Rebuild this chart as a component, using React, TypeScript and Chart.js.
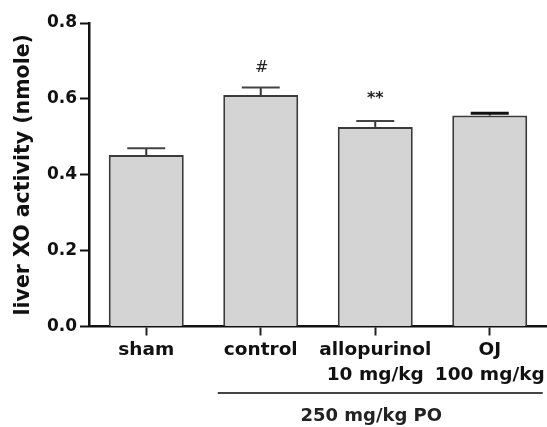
import React, { useEffect, useRef } from "react";
import { Chart, registerables } from "chart.js";

Chart.register(...registerables);

const categories: (string | string[])[] = [
  "sham",
  "control",
  ["allopurinol", "10 mg/kg"],
  ["OJ", "100 mg/kg"],
];
const means = [0.452, 0.61, 0.526, 0.556];
const errors = [0.018, 0.02, 0.016, 0.006];
const sigMarks = ["", "#", "**", ""];
const yTicks = [0, 0.2, 0.4, 0.6, 0.8];
const yTitle = "liver XO activity (nmole)";
const groupLabel = "250 mg/kg PO";
const groupFrom = 1;
const groupTo = 3;

const FONT = "'DejaVu Sans', sans-serif";

const errorBarPlugin = {
  id: "errorBars",
  afterDatasetsDraw(chart: any) {
    const { ctx, scales } = chart;
    const y = scales.y;
    const meta = chart.getDatasetMeta(0);
    ctx.save();
    meta.data.forEach((bar: any, i: number) => {
      const x = bar.x;
      const yBar = y.getPixelForValue(means[i]);
      const yTop = y.getPixelForValue(means[i] + errors[i]);
      ctx.strokeStyle = "#333";
      ctx.lineWidth = 2;
      ctx.beginPath();
      ctx.moveTo(x, yBar);
      ctx.lineTo(x, yTop);
      ctx.stroke();
      ctx.lineWidth = errors[i] < 0.01 ? 3 : 2;
      ctx.strokeStyle = errors[i] < 0.01 ? "#111" : "#444";
      ctx.beginPath();
      ctx.moveTo(x - 19, yTop);
      ctx.lineTo(x + 19, yTop);
      ctx.stroke();
      const mark = sigMarks[i];
      if (mark) {
        ctx.fillStyle = "#222";
        ctx.textAlign = "center";
        ctx.textBaseline = "alphabetic";
        if (mark === "#") {
          ctx.font = `16px ${FONT}`;
          ctx.fillText(mark, x + 1, yTop - 15);
        } else {
          ctx.font = `bold 16px ${FONT}`;
          ctx.fillText(mark, x, yTop - 18);
        }
      }
    });
    ctx.restore();
  },
  afterDraw(chart: any) {
    const { ctx, scales } = chart;
    const x = scales.x;
    const start = x.getPixelForValue(groupFrom) - 43;
    const end = x.getPixelForValue(groupTo) + 53;
    ctx.save();
    ctx.strokeStyle = "#444";
    ctx.lineWidth = 2;
    ctx.beginPath();
    ctx.moveTo(start, 393);
    ctx.lineTo(end, 393);
    ctx.stroke();
    ctx.fillStyle = "#222";
    ctx.font = `bold 18px ${FONT}`;
    ctx.textAlign = "center";
    ctx.textBaseline = "middle";
    ctx.fillText(groupLabel, x.getPixelForValue(2) - 4, 416);
    ctx.restore();
  },
};

export default function App() {
  const ref = useRef<HTMLCanvasElement | null>(null);
  useEffect(() => {
    if (!ref.current) return;
    const chart = new Chart(ref.current, {
      type: "bar",
      data: {
        labels: categories as any,
        datasets: [
          {
            data: means,
            backgroundColor: "#d4d4d4",
            borderColor: "#3a3a3a",
            borderWidth: 2,
            barPercentage: 0.655,
            categoryPercentage: 1,
          },
        ],
      },
      options: {
        responsive: false,
        animation: false,
        layout: { padding: { top: 23, left: 0, right: 0, bottom: 0 } },
        plugins: {
          legend: { display: false },
          tooltip: { enabled: false },
        },
        scales: {
          x: {
            afterFit: (s: any) => {
              s.height = 100.5;
            },
            grid: {
              offset: false,
              drawOnChartArea: false,
              drawTicks: true,
              tickLength: 9,
              tickWidth: 2,
              tickColor: "#222",
            },
            border: { display: true, color: "#111", width: 2.5 },
            ticks: {
              color: "#111",
              padding: 2,
              autoSkip: false,
              maxRotation: 0,
              font: { family: FONT, size: 18.5, weight: "bold", lineHeight: 1.35 },
            },
          },
          y: {
            min: 0,
            max: 0.8,
            afterFit: (s: any) => {
              s.width = 89;
            },
            afterBuildTicks: (s: any) => {
              s.ticks = yTicks.map((v) => ({ value: v }));
            },
            grid: {
              drawOnChartArea: false,
              drawTicks: true,
              tickLength: 9,
              tickWidth: 2,
              tickColor: "#111",
            },
            border: { display: true, color: "#111", width: 2.5 },
            ticks: {
              color: "#111",
              padding: 3,
              font: { family: FONT, size: 17, weight: "bold" },
              callback: (v: any) => Number(v).toFixed(1),
            },
            title: {
              display: true,
              text: yTitle,
              color: "#111",
              padding: { top: 11, bottom: 0 },
              font: { family: FONT, size: 20.5, weight: "bold", lineHeight: 1.2 },
            },
          },
        },
      },
      plugins: [errorBarPlugin],
    } as any);
    return () => chart.destroy();
  }, []);
  return (
    <div style={{ position: "fixed", left: 0, top: 0, width: 547, height: 427, background: "#fff" }}>
      <canvas ref={ref} width={547} height={427} />
    </div>
  );
}
